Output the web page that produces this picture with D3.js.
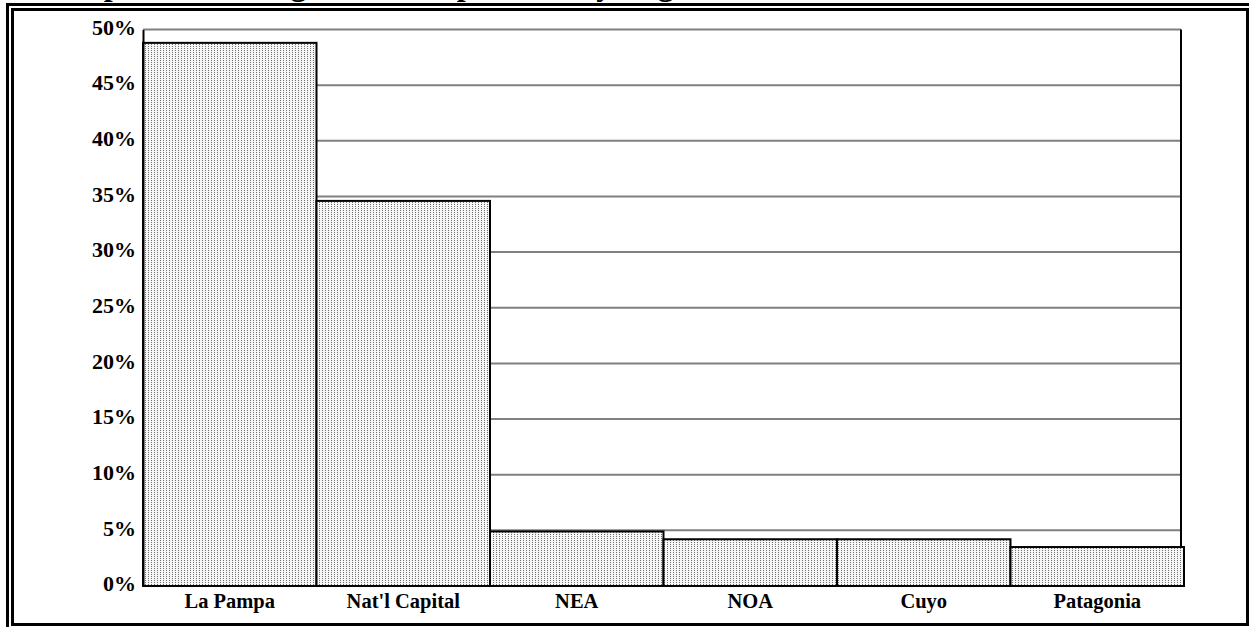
<!DOCTYPE html>
<html>
<head>
<meta charset="utf-8">
<script src="https://cdn.jsdelivr.net/npm/d3@7"></script>
<style>
  html, body { margin: 0; padding: 0; background: #fff; }
  svg { display: block; }
  text { font-family: "Liberation Serif", "Times New Roman", serif; font-weight: bold; fill: #000; }
</style>
</head>
<body>
<svg id="chart" width="1249" height="627"></svg>
<script>
// Share of Argentina's population by region (percent)
const regions = ["La Pampa", "Nat'l Capital", "NEA", "NOA", "Cuyo", "Patagonia"];
const shares  = [48.8, 34.6, 4.9, 4.2, 4.2, 3.5];
const yTicks  = [0, 5, 10, 15, 20, 25, 30, 35, 40, 45, 50];
const titleText = "Composition of Argentina's Population by Region, 1869-1895, 1914";

const W = 1249, H = 627;
const plot = { left: 143, right: 1181, barsRight: 1184, top: 29.5, bottom: 586 };

const svg = d3.select("#chart");

// dotted fill used by the bars
const defs = svg.append("defs");
const pat = defs.append("pattern")
  .attr("id", "dots").attr("patternUnits", "userSpaceOnUse")
  .attr("width", 3).attr("height", 2);
pat.append("rect").attr("width", 3).attr("height", 2).attr("fill", "#f6f6f6");
pat.append("rect").attr("x", 1).attr("y", 0).attr("width", 1).attr("height", 1).attr("fill", "#707070");

// title, mostly above the page edge
svg.append("text")
  .attr("x", 38).attr("y", -5)
  .style("font-size", "32px")
  .text(titleText);

// double frame
svg.append("rect").attr("x", 7.5).attr("y", 4.5).attr("width", W + 20).attr("height", H + 20)
  .attr("fill", "none").attr("stroke", "#000").attr("stroke-width", 3);
svg.append("rect").attr("x", 12.5).attr("y", 9.5).attr("width", 1235).attr("height", 615)
  .attr("fill", "none").attr("stroke", "#000").attr("stroke-width", 3);

const x = d3.scaleBand().domain(regions).range([plot.left, plot.barsRight]).padding(0);
const y = d3.scaleLinear().domain([0, 50]).range([plot.bottom, plot.top]);

// horizontal gridlines
svg.append("g").selectAll("line")
  .data(yTicks.filter(t => t > 0))
  .join("line")
  .attr("x1", plot.left).attr("x2", plot.right)
  .attr("y1", d => y(d)).attr("y2", d => y(d))
  .attr("stroke", "#808080").attr("stroke-width", 2);

// right edge of the plot area
svg.append("line")
  .attr("x1", plot.right).attr("x2", plot.right)
  .attr("y1", y(50)).attr("y2", plot.bottom)
  .attr("stroke", "#000").attr("stroke-width", 2);

// bars
svg.append("g").selectAll("rect")
  .data(regions)
  .join("rect")
  .attr("x", d => x(d))
  .attr("width", x.bandwidth())
  .attr("y", (d, i) => y(shares[i]))
  .attr("height", (d, i) => y(0) - y(shares[i]))
  .attr("fill", "url(#dots)")
  .attr("stroke", "#000").attr("stroke-width", 2);

// y axis
const yAxis = svg.append("g")
  .attr("transform", `translate(${plot.left},0)`)
  .call(d3.axisLeft(y).tickValues(yTicks).tickSize(0).tickPadding(7).tickFormat(d => d + "%"));
yAxis.select(".domain").attr("stroke", "#000").attr("stroke-width", 2);
yAxis.selectAll("text")
  .style("font-size", "22px")
  .style("font-family", "'Liberation Serif', serif")
  .style("font-weight", "bold")
  .attr("dy", "0.22em");

// x axis
const xAxis = svg.append("g")
  .attr("transform", `translate(0,${plot.bottom})`)
  .call(d3.axisBottom(x).tickSize(0).tickPadding(8));
xAxis.select(".domain").attr("stroke", "#000").attr("stroke-width", 2)
  .attr("d", `M${plot.left},0H${plot.barsRight}`);
xAxis.selectAll("text")
  .style("font-size", "20.5px")
  .style("font-family", "'Liberation Serif', serif")
  .style("font-weight", "bold")
  .attr("dy", "0.68em");
</script>
</body>
</html>
